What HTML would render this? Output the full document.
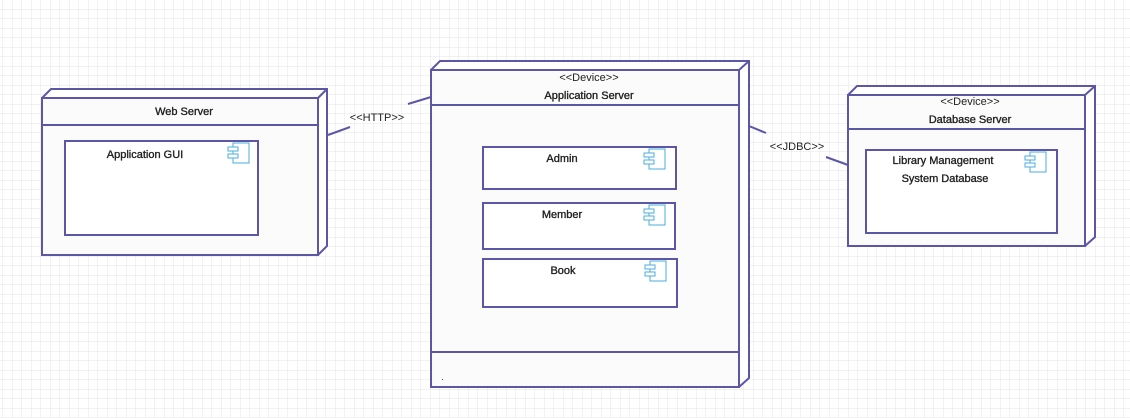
<!DOCTYPE html>
<html><head><meta charset="utf-8"><style>
html,body{margin:0;padding:0;width:1130px;height:418px;overflow:hidden;background:#fff;}
svg{display:block}
text{font-family:"Liberation Sans",Arial,sans-serif;font-size:11px;fill:#222;}
.b{stroke:#222;stroke-width:0.35px;}
</style></head><body>
<svg width="1130" height="418" viewBox="0 0 1130 418">
<defs>
<pattern id="g" width="9.5" height="9.5" patternUnits="userSpaceOnUse" x="3" y="0">
<path d="M9.5 0V9.5M0 9.5H9.5" stroke="#e6e6e6" stroke-width="1" fill="none"/>
</pattern>
<g id="ic">
<rect x="5" y="0" width="16" height="20" fill="#fff" stroke="#4aaee0" stroke-width="1"/>
<rect x="0" y="4" width="10" height="4" fill="#fff" stroke="#4aaee0" stroke-width="1"/>
<rect x="0" y="11" width="10" height="4" fill="#fff" stroke="#4aaee0" stroke-width="1"/>
</g>
</defs>
<rect width="1130" height="418" fill="url(#g)"/>
<g stroke="#5b56a6" stroke-width="2" fill="none">
<line x1="328" y1="135" x2="350" y2="127"/>
<line x1="408" y1="104" x2="431" y2="97"/>
<line x1="749" y1="126" x2="766" y2="133"/>
<line x1="826" y1="157" x2="848" y2="165"/>
<path d="M42 98 L51 89 L327 89 L327 246 L318 255" fill="#fff"/>
<line x1="318" y1="98" x2="327" y2="89"/>
<rect x="42" y="98" width="276" height="157" fill="#fbfbfb"/>
<line x1="42" y1="125" x2="318" y2="125"/>
<rect x="65" y="141" width="193" height="94" fill="#fff"/>
<path d="M431 70 L440 61 L749 61 L749 378 L739 387" fill="#fff"/>
<line x1="739" y1="70" x2="749" y2="61"/>
<rect x="431" y="70" width="308" height="317" fill="#fbfbfb"/>
<line x1="431" y1="105" x2="739" y2="105"/>
<line x1="431" y1="352" x2="739" y2="352"/>
<rect x="483" y="147" width="193" height="42" fill="#fff"/>
<rect x="483" y="203" width="192" height="46" fill="#fff"/>
<rect x="483" y="259" width="194" height="48" fill="#fff"/>
<path d="M848 95 L857 86 L1095 86 L1095 237 L1085 246" fill="#fff"/>
<line x1="1085" y1="95" x2="1095" y2="86"/>
<rect x="848" y="95" width="237" height="151" fill="#fbfbfb"/>
<line x1="848" y1="129" x2="1085" y2="129"/>
<rect x="866" y="150" width="191" height="83" fill="#fff"/>
</g>
<use href="#ic" x="228" y="143"/>
<use href="#ic" x="644" y="149"/>
<use href="#ic" x="644" y="205"/>
<use href="#ic" x="645" y="261"/>
<use href="#ic" x="1025" y="152"/>
<rect x="442" y="379" width="1" height="1" fill="#555"/>
<text class="b" x="184" y="115" text-anchor="middle">Web Server</text>
<text class="b" x="145" y="158" text-anchor="middle">Application GUI</text>
<text x="377" y="121" text-anchor="middle">&lt;&lt;HTTP&gt;&gt;</text>
<text x="589" y="81" text-anchor="middle">&lt;&lt;Device&gt;&gt;</text>
<text class="b" x="589" y="99" text-anchor="middle">Application Server</text>
<text class="b" x="562" y="162" text-anchor="middle">Admin</text>
<text class="b" x="562" y="218" text-anchor="middle">Member</text>
<text class="b" x="563" y="274" text-anchor="middle">Book</text>
<text x="797" y="150" text-anchor="middle">&lt;&lt;JDBC&gt;&gt;</text>
<text x="970" y="105" text-anchor="middle">&lt;&lt;Device&gt;&gt;</text>
<text class="b" x="970" y="123" text-anchor="middle">Database Server</text>
<text class="b" x="943" y="164" text-anchor="middle">Library Management</text>
<text class="b" x="945" y="182" text-anchor="middle">System Database</text>
</svg>
</body></html>
